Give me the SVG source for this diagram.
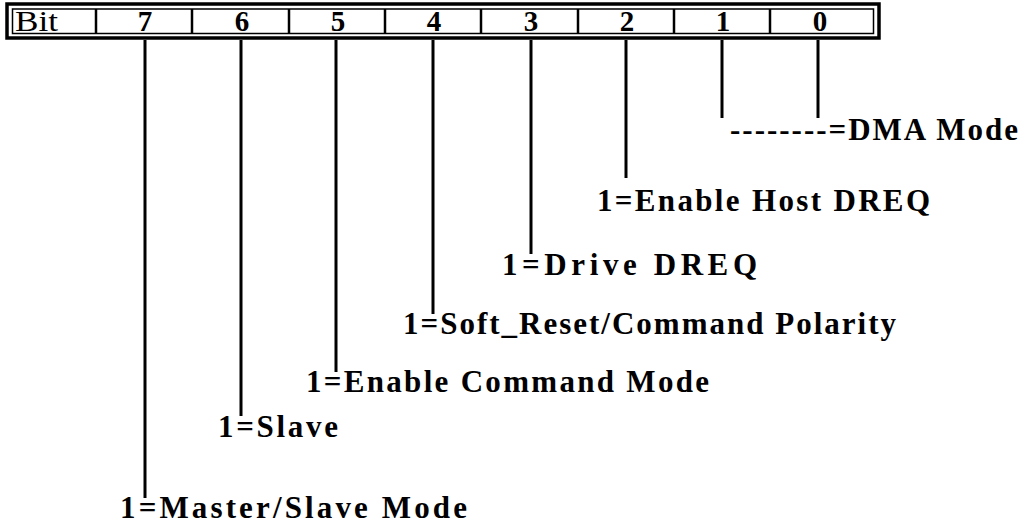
<svg xmlns="http://www.w3.org/2000/svg" width="1023" height="527" viewBox="0 0 1023 527">
<style>
.frame{fill:none;stroke:#000}
.div{stroke:#000;stroke-width:2.5}
.lead{stroke:#000;stroke-width:3;stroke-linecap:butt}
.hd{font-family:"Liberation Serif",serif;font-size:30px;fill:#000}
.num{font-family:"Liberation Serif",serif;font-weight:bold;font-size:29px;fill:#000;text-anchor:middle}
.lbl{font-family:"Liberation Serif",serif;font-weight:bold;font-size:31px;fill:#000}
</style>
<rect width="1023" height="527" fill="#fff"/>
<g id="register">
<rect class="frame" x="7" y="4" width="872" height="34" stroke-width="3.5"/>
<rect class="frame" x="12.5" y="9" width="861" height="24.5" stroke-width="1.5"/>
<line class="div" x1="96" y1="9" x2="96" y2="34"/>
<line class="div" x1="192" y1="9" x2="192" y2="34"/>
<line class="div" x1="289" y1="9" x2="289" y2="34"/>
<line class="div" x1="385" y1="9" x2="385" y2="34"/>
<line class="div" x1="481" y1="9" x2="481" y2="34"/>
<line class="div" x1="578" y1="9" x2="578" y2="34"/>
<line class="div" x1="674" y1="9" x2="674" y2="34"/>
<line class="div" x1="770" y1="9" x2="770" y2="34"/>
<text class="hd" x="15" y="31" textLength="43" lengthAdjust="spacingAndGlyphs">Bit</text>
<text class="num" x="145" y="31">7</text>
<text class="num" x="242" y="31">6</text>
<text class="num" x="338" y="31">5</text>
<text class="num" x="434" y="31">4</text>
<text class="num" x="531" y="31">3</text>
<text class="num" x="627" y="31">2</text>
<text class="num" x="723" y="31">1</text>
<text class="num" x="820" y="31">0</text>
</g>
<g id="connectors">
<line class="lead" x1="145" y1="40" x2="145" y2="498"/>
<line class="lead" x1="241" y1="40" x2="241" y2="416"/>
<line class="lead" x1="336" y1="40" x2="336" y2="372"/>
<line class="lead" x1="433" y1="40" x2="433" y2="314"/>
<line class="lead" x1="531" y1="40" x2="531" y2="254"/>
<line class="lead" x1="626" y1="40" x2="626" y2="178"/>
<line class="lead" x1="722" y1="40" x2="722" y2="118"/>
<line class="lead" x1="818" y1="40" x2="818" y2="118"/>
</g>
<g id="bit0"><text class="lbl" x="730" y="140" textLength="288" lengthAdjust="spacing">--------=DMA  Mode</text></g>
<g id="bit2"><text class="lbl" x="597" y="211" textLength="333" lengthAdjust="spacing">1=Enable Host DREQ</text></g>
<g id="bit3"><text class="lbl" x="502" y="275" textLength="255" lengthAdjust="spacing">1=Drive DREQ</text></g>
<g id="bit4"><text class="lbl" x="403" y="334" textLength="493" lengthAdjust="spacing">1=Soft_Reset/Command Polarity</text></g>
<g id="bit5"><text class="lbl" x="306" y="392" textLength="403" lengthAdjust="spacing">1=Enable Command Mode</text></g>
<g id="bit6"><text class="lbl" x="218" y="437" textLength="120" lengthAdjust="spacing">1=Slave</text></g>
<g id="bit7"><text class="lbl" x="120" y="518" textLength="347" lengthAdjust="spacing">1=Master/Slave Mode</text></g>
</svg>
